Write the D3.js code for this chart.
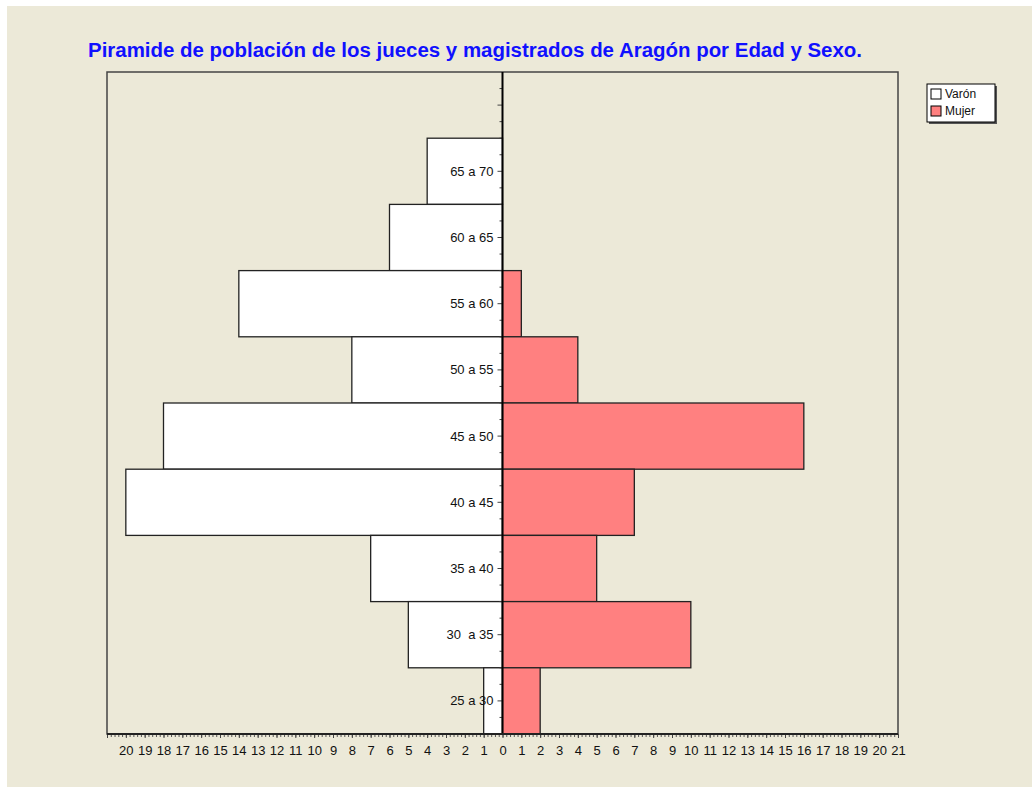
<!DOCTYPE html>
<html>
<head>
<meta charset="utf-8">
<script src="https://cdn.jsdelivr.net/npm/d3@7"></script>
<style>
  body { margin: 0; background: #fff; }
  text { font-family: "Liberation Sans", Arial, sans-serif; }
</style>
</head>
<body>
<script>
// age groups, top to bottom (first band is empty in the original)
var ageGroups = ["", "65 a 70", "60 a 65", "55 a 60", "50 a 55", "45 a 50", "40 a 45", "35 a 40", "30  a 35", "25 a 30"];
var varon = [0, 4, 6, 14, 8, 18, 20, 7, 5, 1];
var mujer = [0, 0, 0, 1, 4, 16, 7, 5, 10, 2];
var xTicks = d3.range(-21, 22);
var seriesNames = ["Varón", "Mujer"];
var seriesColors = ["#ffffff", "#ff8080"];

var W = 1032, H = 787;
var plot = {left: 107, right: 898, top: 72, bottom: 734};

var svg = d3.select("body").append("svg")
    .attr("width", W)
    .attr("height", H);

// beige window background
svg.append("rect")
    .attr("x", 7).attr("y", 6)
    .attr("width", W - 7).attr("height", H - 6)
    .style("fill", "#ece9d8");

var x = d3.scaleLinear().domain([-21, 21]).range([plot.left, plot.right]);
var y = d3.scaleBand().domain(ageGroups).range([plot.top, plot.bottom]).padding(0);

// title
svg.append("text")
    .attr("x", 475)
    .attr("y", 57)
    .attr("text-anchor", "middle")
    .attr("textLength", 774)
    .attr("lengthAdjust", "spacingAndGlyphs")
    .style("font-size", "20px")
    .style("font-weight", "bold")
    .style("fill", "#1010ff")
    .text("Piramide de población de los jueces y magistrados de Aragón por Edad y Sexo.");

// plot frame
svg.append("rect")
    .attr("x", plot.left).attr("y", plot.top)
    .attr("width", plot.right - plot.left)
    .attr("height", plot.bottom - plot.top)
    .style("fill", "none")
    .style("stroke", "#444")
    .style("stroke-width", 1.5);

// bars
var rows = ageGroups.map(function(g, i) { return {g: g, v: varon[i], m: mujer[i]}; });

svg.selectAll(".varon").data(rows.filter(function(d) { return d.v > 0; }))
  .enter().append("rect")
    .attr("x", function(d) { return x(-d.v); })
    .attr("y", function(d) { return y(d.g); })
    .attr("width", function(d) { return x(0) - x(-d.v); })
    .attr("height", y.bandwidth())
    .style("fill", seriesColors[0])
    .style("stroke", "#222")
    .style("stroke-width", 1.3);

svg.selectAll(".mujer").data(rows.filter(function(d) { return d.m > 0; }))
  .enter().append("rect")
    .attr("x", x(0))
    .attr("y", function(d) { return y(d.g); })
    .attr("width", function(d) { return x(d.m) - x(0); })
    .attr("height", y.bandwidth())
    .style("fill", seriesColors[1])
    .style("stroke", "#222")
    .style("stroke-width", 1.3);

// category axis ticks on the zero line
var bw = y.bandwidth();
ageGroups.forEach(function(g) {
    var y0 = y(g);
    [0.25, 0.5, 0.75, 1].forEach(function(f) {
        var len = f === 0.5 ? 5 : 3;
        svg.append("line")
            .attr("x1", x(0) - len).attr("x2", x(0))
            .attr("y1", y0 + bw * f).attr("y2", y0 + bw * f)
            .style("stroke", "#444");
    });
    if (g !== "") {
        svg.append("text")
            .attr("x", x(0) - 9)
            .attr("y", y0 + bw / 2)
            .attr("dy", "0.35em")
            .attr("text-anchor", "end")
            .style("font-size", "13px")
            .style("fill", "#111")
            .style("white-space", "pre")
            .text(g);
    }
});

// zero line
svg.append("line")
    .attr("x1", x(0)).attr("x2", x(0))
    .attr("y1", plot.top).attr("y2", plot.bottom)
    .style("stroke", "#000")
    .style("stroke-width", 2);

// bottom axis, minor ticks every 0.2
var minor = d3.range(-21, 21.01, 0.2);
svg.append("g")
    .attr("transform", "translate(0," + plot.bottom + ")")
    .call(d3.axisBottom(x).tickValues(minor).tickSize(3).tickFormat(""))
    .call(function(g) { g.select(".domain").remove(); })
    .selectAll("line").style("stroke", "#555");

var xAxis = svg.append("g")
    .attr("transform", "translate(0," + plot.bottom + ")")
    .call(d3.axisBottom(x).tickValues(xTicks).tickSize(4).tickPadding(8)
        .tickFormat(function(d) { return d === -21 ? "" : Math.abs(d); }));
xAxis.select(".domain").remove();
xAxis.selectAll("line").style("stroke", "#444");
xAxis.selectAll("text")
    .style("font-family", "'Liberation Sans', Arial, sans-serif")
    .style("font-size", "13px")
    .style("fill", "#111");

svg.append("line")
    .attr("x1", plot.left).attr("x2", plot.right)
    .attr("y1", plot.bottom).attr("y2", plot.bottom)
    .style("stroke", "#222")
    .style("stroke-width", 2);

// legend
var lg = svg.append("g").attr("transform", "translate(927,84)");
lg.append("rect")
    .attr("x", 2).attr("y", 2).attr("width", 68).attr("height", 38)
    .style("fill", "#555");
lg.append("rect")
    .attr("width", 68).attr("height", 38)
    .style("fill", "#fff")
    .style("stroke", "#000")
    .style("stroke-width", 1);
seriesNames.forEach(function(name, i) {
    lg.append("rect")
        .attr("x", 4).attr("y", 5 + i * 17)
        .attr("width", 10).attr("height", 10)
        .style("fill", seriesColors[i])
        .style("stroke", "#000");
    lg.append("text")
        .attr("x", 18).attr("y", 10 + i * 17)
        .attr("dy", "0.35em")
        .style("font-size", "12px")
        .style("fill", "#111")
        .text(name);
});
</script>
</body>
</html>
